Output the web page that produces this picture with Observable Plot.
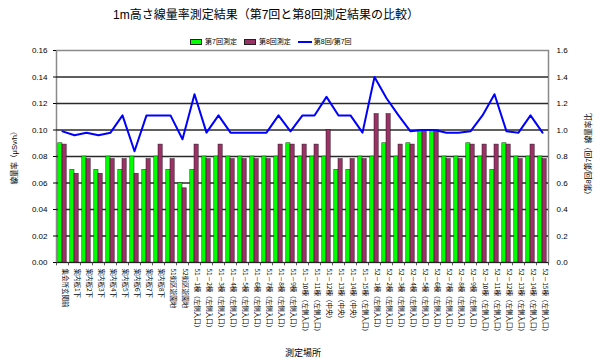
<!DOCTYPE html>
<html><head><meta charset="utf-8">
<script src="https://cdn.jsdelivr.net/npm/d3@7"></script>
<script src="https://cdn.jsdelivr.net/npm/@observablehq/plot@0.6"></script>
<style>
body{margin:0;background:#fff;font-family:"Liberation Sans","Noto Sans CJK JP",sans-serif;color:#000;}
#wrap{position:relative;width:600px;height:364px;overflow:hidden;}
#wrap svg{position:absolute;left:0;top:0;}
.abs{position:absolute;white-space:nowrap;}
#title{left:0;top:6px;width:532px;text-align:center;font-size:12px;line-height:18px;}
#legend{left:190px;top:37px;height:10px;display:flex;align-items:center;font-size:7px;line-height:10px;}
#legend .sw{display:inline-block;width:10px;height:4px;border:0.6px solid #222;margin-right:3px;}
#legend .ln{display:inline-block;width:14px;height:2px;background:#0000ff;margin-right:2px;}
#legend .it{display:flex;align-items:center;margin-right:7px;}
.rot{transform:translate(-50%,-50%) rotate(-90deg);font-size:7.5px;}
</style></head>
<body>
<div id="wrap">
  <div id="title" class="abs">1m高さ線量率測定結果（第7回と第8回測定結果の比較）</div>
  <div id="legend" class="abs">
    <span class="it"><span class="sw" style="background:#00ff00"></span>第7回測定</span>
    <span class="it"><span class="sw" style="background:#993366"></span>第8回測定</span>
    <span class="it"><span class="ln"></span>第8回/第7回</span>
  </div>
  <div class="abs rot" style="left:13px;top:156px;">線量率（μSv/h）</div>
  <div class="abs rot" style="left:587px;top:156px;">（第8回/第7回）線量率比</div>
  <div class="abs" style="left:303px;top:352px;transform:translate(-50%,-50%);font-size:9px;">測定場所</div>
</div>
<script>
const categories = [
  "集会所玄関前","案内板1下","案内板2下","案内板3下","案内板4下","案内板5下","案内板6下","案内板7下","案内板8下",
  "51街区遊園地","52街区遊園地",
  "51－1棟（左側入口）","51－2棟（左側入口）","51－3棟（左側入口）","51－4棟（左側入口）","51－5棟（左側入口）",
  "51－6棟（左側入口）","51－7棟（左側入口）","51－8棟（左側入口）","51－9棟（左側入口）","51－10棟（左側入口）",
  "51－11棟（左側入口）","51－12棟（中央）","51－13棟（中央）","51－14棟（中央）","51－15棟（左側入口）",
  "52－1棟（左側入口）","52－2棟（左側入口）","52－3棟（左側入口）","52－4棟（左側入口）","52－5棟（左側入口）",
  "52－6棟（左側入口）","52－7棟（左側入口）","52－8棟（左側入口）","52－9棟（左側入口）","52－10棟（左側入口）",
  "52－11棟（左側入口）","52－12棟（左側入口）","52－13棟（左側入口）","52－14棟（左側入口）","52－15棟（左側入口）"
];
const round7 = [0.09,0.07,0.08,0.07,0.08,0.07,0.08,0.07,0.08,0.07,0.06,
  0.07,0.08,0.08,0.08,0.08,0.08,0.08,0.08,0.09,0.08,0.08,0.08,0.07,0.07,0.08,
  0.08,0.09,0.08,0.09,0.10,0.10,0.08,0.08,0.09,0.08,0.07,0.09,0.08,0.08,0.08];
const round8 = [0.089,0.067,0.078,0.067,0.078,0.078,0.067,0.078,0.089,0.078,0.056,
  0.089,0.078,0.089,0.078,0.078,0.078,0.078,0.089,0.089,0.089,0.089,0.10,0.078,0.078,0.078,
  0.112,0.112,0.089,0.089,0.10,0.10,0.078,0.078,0.089,0.089,0.089,0.089,0.078,0.089,0.078];
const ratio = [0.99,0.96,0.98,0.96,0.98,1.11,0.84,1.11,1.11,1.11,0.93,
  1.27,0.98,1.11,0.98,0.98,0.98,0.98,1.11,0.99,1.11,1.11,1.25,1.11,1.11,0.98,
  1.40,1.24,1.11,0.99,1.00,1.00,0.98,0.98,0.99,1.11,1.27,0.99,0.98,1.11,0.98];
const leftTicks = [0,0.02,0.04,0.06,0.08,0.10,0.12,0.14,0.16];
const rightTicks = [0.0,0.2,0.4,0.6,0.8,1.0,1.2,1.4,1.6];

const W=600,H=364,ML=56,MR=52,MT=50,MB=102;
const bw=(W-ML-MR)/categories.length;
const barW=4.2;
const rows = categories.map((c,i)=>({c, a:round7[i], b:round8[i], r:ratio[i]}));
const yMax = leftTicks[leftTicks.length-1];
const rMax = rightTicks[rightTicks.length-1];
const toY = v => v/rMax*yMax;

const chart = Plot.plot({
  width:W, height:H, marginLeft:ML, marginRight:MR, marginTop:MT, marginBottom:MB,
  style:{fontFamily:'"Liberation Sans","Noto Sans CJK JP",sans-serif', fontSize:"8px", background:"transparent", overflow:"visible"},
  x:{domain:categories, type:"band", padding:0, axis:null},
  y:{domain:[0,yMax], axis:null},
  marks:[
    Plot.frame({stroke:"#8a8a8a", strokeWidth:1.5}),
    Plot.ruleY(leftTicks.filter(t=>t>0 && t<yMax), {stroke:"#2a2a2a", strokeWidth:1.3}),
    Plot.barY(rows, {x:"c", y:"a", fill:"#00ff00", stroke:"#1a3a1a", strokeWidth:0.5, insetLeft:bw/2-barW, insetRight:bw/2}),
    Plot.barY(rows, {x:"c", y:"b", fill:"#993366", stroke:"#2a1020", strokeWidth:0.5, insetLeft:bw/2, insetRight:bw/2-barW}),
    Plot.ruleY([0], {stroke:"#222", strokeWidth:1.2}),
    Plot.ruleX(categories, {x:d=>d, y1:0, y2:-0.0025, dx:-bw/2, stroke:"#333", strokeWidth:0.8}),
    Plot.ruleX([categories[categories.length-1]], {x:d=>d, y1:0, y2:-0.0025, dx:bw/2, stroke:"#333", strokeWidth:0.8}),
    Plot.line(rows, {x:"c", y:d=>toY(d.r), stroke:"#0000ff", strokeWidth:2}),
    Plot.axisY({ticks:leftTicks, tickFormat:d3.format(".2f"), anchor:"left", tickSize:3, tickPadding:6, fontSize:8, label:null}),
    Plot.axisY({ticks:rightTicks.map(toY), tickFormat:d=>(d/yMax*rMax).toFixed(1), anchor:"right", tickSize:0, tickPadding:8, fontSize:8, label:null}),
    Plot.text(categories, {x:d=>d, frameAnchor:"bottom", rotate:90, textAnchor:"start", dy:6, fontSize:6.5, fontFamily:'"Noto Sans CJK JP",sans-serif'})
  ]
});
document.getElementById("wrap").prepend(chart);
</script>
</body></html>
